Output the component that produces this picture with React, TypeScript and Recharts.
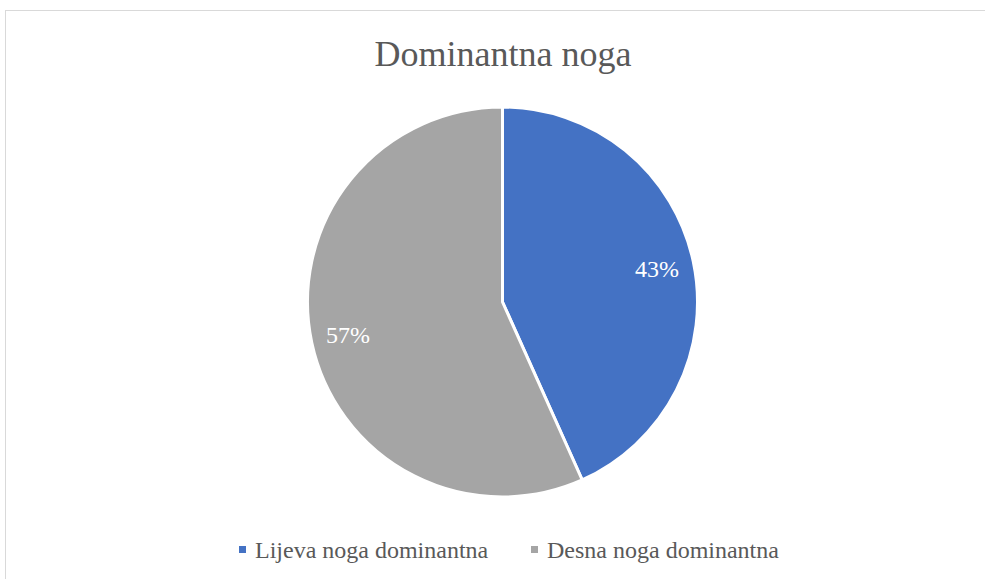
import React from 'react';
import { PieChart, Pie, Cell, Legend } from 'recharts';

const categories = ['Lijeva noga dominantna', 'Desna noga dominantna'];
const values = [43.3, 56.7];
const colors = ['#4472C4', '#A5A5A5'];
const title = 'Dominantna noga';

const data = categories.map((name, i) => ({ name, value: values[i] }));

const FONT = '"Liberation Serif", "Times New Roman", serif';
const RADIAN = Math.PI / 180;

const PieLabel = (props: any) => {
  const { cx, cy, midAngle, outerRadius, percent } = props;
  const r = outerRadius * 0.81;
  const x = cx + r * Math.cos(-midAngle * RADIAN);
  const y = cy + r * Math.sin(-midAngle * RADIAN);
  return (
    <text
      x={x}
      y={y + 8}
      fill="#FFFFFF"
      stroke="none"
      textAnchor="middle"
      fontFamily="Liberation Serif"
      fontSize={24}
      style={{ fontFamily: FONT, fontSize: 24, fontWeight: 400 }}
    >
      {`${Math.round(percent * 100)}%`}
    </text>
  );
};

const legendPos = [239, 531];

const renderLegend = () => (
  <svg width={985} height={40} style={{ display: 'block' }}>
    {data.map((d, i) => (
      <g key={d.name}>
        <rect x={legendPos[i]} y={13} width={7} height={7} fill={colors[i]} />
        <text
          x={legendPos[i] + 16}
          y={24.5}
          fill="#595959"
          style={{ fontFamily: FONT, fontSize: 24 }}
        >
          {d.name}
        </text>
      </g>
    ))}
  </svg>
);

export default function App() {
  return (
    <div
      style={{
        position: 'absolute',
        left: 0,
        top: 0,
        width: 985,
        height: 579,
        overflow: 'hidden',
        background: '#FFFFFF',
        fontFamily: FONT,
      }}
    >
      <div
        style={{
          position: 'absolute',
          left: 5,
          top: 10,
          width: 1000,
          height: 600,
          border: '1px solid #D9D9D9',
        }}
      />
      <div style={{ position: 'absolute', left: 0, top: 0 }}>
        <PieChart
          width={985}
          height={579}
          margin={{ top: 0, right: 0, bottom: 0, left: 0 }}
          style={{ fontFamily: FONT }}
        >
          <Pie
            data={data}
            dataKey="value"
            nameKey="name"
            cx={502.5}
            cy={302}
            outerRadius={195}
            startAngle={90}
            endAngle={-270}
            stroke="#FFFFFF"
            strokeWidth={3}
            label={(p: any) => <PieLabel {...p} />}
            labelLine={false}
            isAnimationActive={false}
          >
            {data.map((d, i) => (
              <Cell key={d.name} fill={colors[i]} />
            ))}
          </Pie>
          <Legend
            content={renderLegend}
            wrapperStyle={{ position: 'absolute', left: 0, top: 533, width: 985, height: 40 }}
          />
        </PieChart>
      </div>
      <svg
        width={985}
        height={90}
        style={{ position: 'absolute', left: 0, top: 0, pointerEvents: 'none' }}
      >
        <text
          x={503}
          y={66}
          textAnchor="middle"
          fill="#595959"
          style={{ fontFamily: FONT, fontSize: 36 }}
        >
          {title}
        </text>
      </svg>
    </div>
  );
}
